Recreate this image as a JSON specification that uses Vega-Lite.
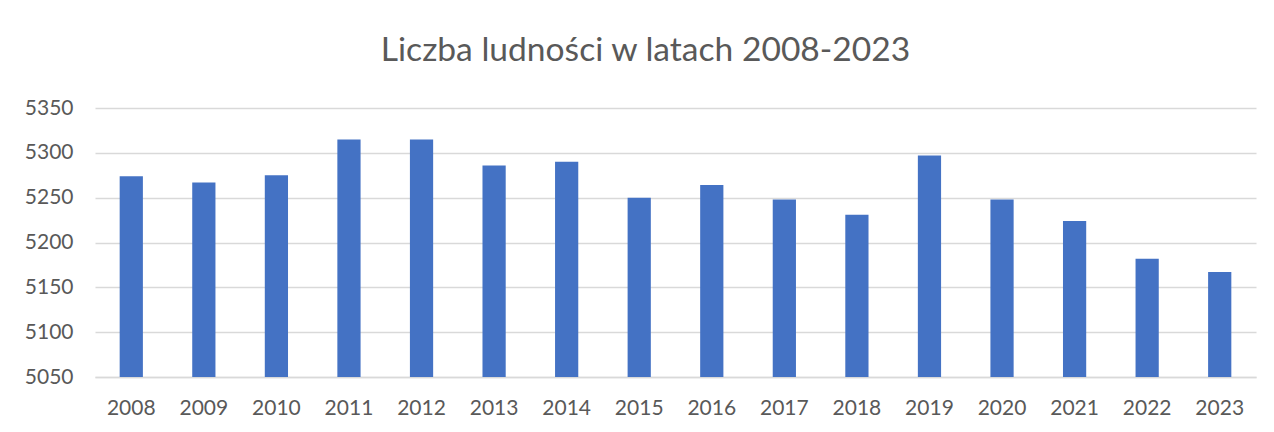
{
  "$schema": "https://vega.github.io/schema/vega-lite/v6.json",
  "autosize": {"type": "none"},
  "width": 1161,
  "height": 269,
  "padding": {"left": 95, "top": 108, "right": 18, "bottom": 55},
  "background": "white",
  "title": {
    "text": "Liczba ludności w latach 2008-2023",
    "font": "Lato",
    "fontSize": 33.6,
    "fontWeight": "normal",
    "color": "#595959",
    "anchor": "middle",
    "frame": "group",
    "baseline": "alphabetic",
    "offset": 2,
    "dx": -30
  },
  "data": {
    "values": [
      {"rok": "2008", "ludnosc": 5274},
      {"rok": "2009", "ludnosc": 5267},
      {"rok": "2010", "ludnosc": 5275},
      {"rok": "2011", "ludnosc": 5315},
      {"rok": "2012", "ludnosc": 5315},
      {"rok": "2013", "ludnosc": 5286},
      {"rok": "2014", "ludnosc": 5290},
      {"rok": "2015", "ludnosc": 5250},
      {"rok": "2016", "ludnosc": 5264},
      {"rok": "2017", "ludnosc": 5248},
      {"rok": "2018", "ludnosc": 5231},
      {"rok": "2019", "ludnosc": 5297},
      {"rok": "2020", "ludnosc": 5248},
      {"rok": "2021", "ludnosc": 5224},
      {"rok": "2022", "ludnosc": 5182},
      {"rok": "2023", "ludnosc": 5167}
    ]
  },
  "mark": {"type": "bar", "color": "#4472C4"},
  "encoding": {
    "x": {
      "field": "rok",
      "type": "ordinal",
      "title": null,
      "scale": {"paddingInner": 0.68, "paddingOuter": 0.34},
      "axis": {
        "labelAngle": 0,
        "labelFont": "Lato",
        "labelFontSize": 21,
        "labelColor": "#595959",
        "labelBaseline": "middle",
        "labelPadding": 31,
        "ticks": false,
        "tickSize": 0,
        "domain": true,
        "domainColor": "#d9d9d9",
        "domainWidth": 1.5,
        "grid": false
      }
    },
    "y": {
      "field": "ludnosc",
      "type": "quantitative",
      "title": null,
      "stack": null,
      "scale": {"domain": [5050, 5350], "zero": false, "nice": false},
      "axis": {
        "values": [5050, 5100, 5150, 5200, 5250, 5300, 5350],
        "format": "d",
        "labelFont": "Lato",
        "labelFontSize": 21,
        "labelColor": "#595959",
        "labelPadding": 22,
        "ticks": false,
        "tickSize": 0,
        "domain": false,
        "grid": true,
        "gridColor": "#d9d9d9",
        "gridWidth": 1.5
      }
    },
    "y2": {"datum": 5050}
  },
  "config": {"view": {"stroke": null}}
}
